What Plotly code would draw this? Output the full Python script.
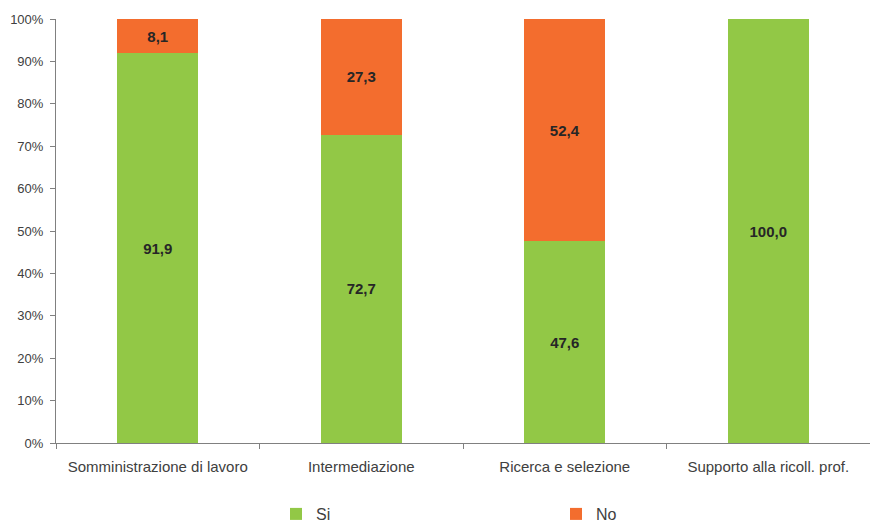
import plotly.graph_objects as go

categories = ["Somministrazione di lavoro", "Intermediazione", "Ricerca e selezione", "Supporto alla ricoll. prof."]
si_values = [91.9, 72.7, 47.6, 100.0]
no_values = [8.1, 27.3, 52.4, 0.0]

GREEN = "#92C846"
ORANGE = "#F36D2E"
LABEL_FONT = dict(family="Liberation Sans", size=15, color="#262626", weight="bold")


def labels(values):
    return [f"{v:.1f}".replace(".", ",") if v > 0 else "" for v in values]


fig = go.Figure()
fig.add_trace(go.Bar(
    name="Si", x=categories, y=si_values, marker_color=GREEN, marker_line_width=0,
    text=labels(si_values), textposition="inside", insidetextanchor="middle",
    textfont=LABEL_FONT, hoverinfo="x+y", legend="legend",
))
fig.add_trace(go.Bar(
    name="No", x=categories, y=no_values, marker_color=ORANGE, marker_line_width=0,
    text=labels(no_values), textposition="inside", insidetextanchor="middle",
    textfont=LABEL_FONT, hoverinfo="x+y", legend="legend2",
))

legend_common = dict(
    xref="container", yref="container", yanchor="middle", y=9 / 523,
    xanchor="left", bgcolor="rgba(0,0,0,0)",
    font=dict(size=16, color="#404040"),
    itemclick=False, itemdoubleclick=False,
)

fig.update_layout(
    barmode="stack",
    bargap=0.6,
    width=870, height=523,
    margin=dict(l=56, r=0, t=19, b=80, autoexpand=False),
    plot_bgcolor="white", paper_bgcolor="white",
    font=dict(family="Liberation Sans", size=13, color="#404040"),
    uniformtext=dict(mode="show", minsize=8),
    showlegend=True,
    legend=dict(x=276 / 870, **legend_common),
    legend2=dict(x=556 / 870, **legend_common),
)
fig.update_xaxes(
    showline=True, linecolor="#808080", linewidth=1,
    ticks="outside", tickson="boundaries", ticklen=5, tickcolor="#808080",
    tickfont=dict(size=15, color="#404040"), ticklabelstandoff=10,
    showgrid=False, automargin=False,
)
fig.update_yaxes(
    range=[0, 100], dtick=10, ticksuffix="%",
    showline=True, linecolor="#808080", linewidth=1,
    ticks="outside", ticklen=5, tickcolor="#808080", ticklabelstandoff=4,
    showgrid=False, zeroline=False, automargin=False,
    tickfont=dict(size=13, color="#404040"),
)

fig.write_html("out.html")
